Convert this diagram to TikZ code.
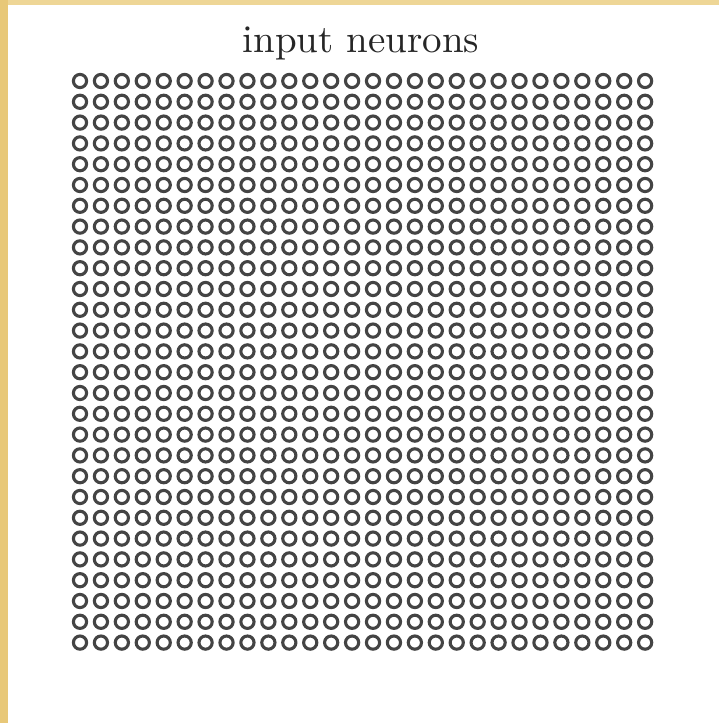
\documentclass[tikz,border=0pt]{standalone}
\usepackage{tikz}
\usepackage{graphicx}
\definecolor{paper}{RGB}{232,200,120}
\definecolor{paperlight}{RGB}{238,214,150}
\definecolor{ring}{RGB}{68,68,68}
\tikzset{
  neuron/.style={circle, draw=ring, line width=3.1pt, minimum size=13.2pt, inner sep=0pt},
  title/.style={font=\fontsize{10}{12}\selectfont, anchor=base, text=black!85}
}
\begin{document}
\begin{tikzpicture}[x=1pt,y=1pt]
\useasboundingbox (0,0) rectangle (719,723);
\fill[white] (0,0) rectangle (719,723);
\fill[paperlight] (0,718) rectangle (719,723);
\fill[paper] (0,0) rectangle (7.5,723);
\node[title] (title) at (361,670) {\scalebox{3.9}{input neurons}};
\foreach \i in {0,...,27}{
  \foreach \j in {0,...,27}{
    \node[neuron] (n-\i-\j) at ({80+\j*20.93},{642-\i*20.8}) {};
  }
}
\end{tikzpicture}
\end{document}
